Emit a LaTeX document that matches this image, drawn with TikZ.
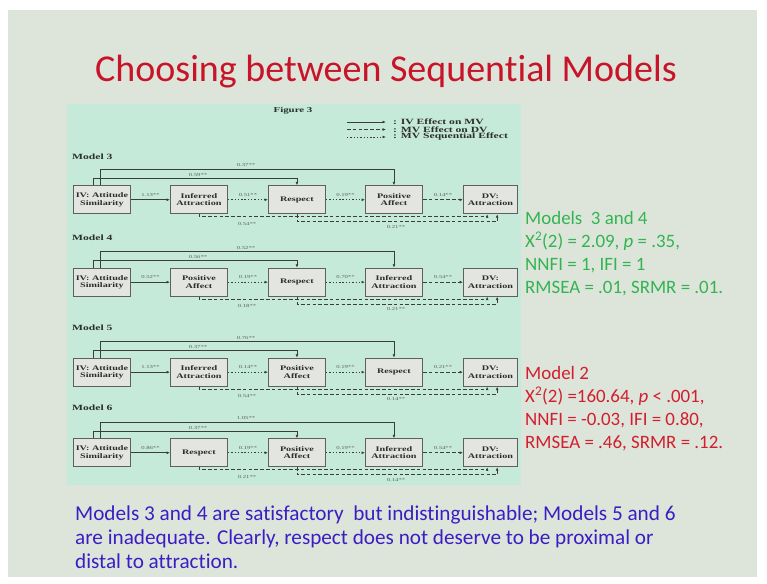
\documentclass[tikz,border=0pt]{standalone}
\usepackage{fontspec}
\setmainfont{Carlito}[RawFeature={-liga;-clig;-dlig}]
\newfontfamily\figfont[FakeStretch=1.45]{Liberation Serif}
\usetikzlibrary{arrows.meta,calc}

\definecolor{slidebg}{RGB}{221,229,219}
\definecolor{panelbg}{RGB}{197,234,217}
\definecolor{boxfill}{RGB}{227,229,225}
\definecolor{boxline}{RGB}{95,95,95}
\definecolor{linecol}{RGB}{60,60,60}
\definecolor{figtext}{RGB}{45,45,45}
\definecolor{lbltext}{RGB}{95,95,95}
\definecolor{fitgreen}{RGB}{50,180,80}
\definecolor{fitred}{RGB}{210,30,45}
\definecolor{notesblue}{RGB}{58,30,195}
\definecolor{titlered}{RGB}{200,20,40}

% One row of the sequential model: boxes and connectors
% #1 id, #2 box top, #3 label y, #4 model number, #5-#7 middle boxes
\newcommand\modelrow[7]{%
  \node[modeltag] (#1lab) at (72,#3) {Model #4};
  \node[box] (#1a) at (73,#2) {IV: Attitude\\Similarity};
  \node[box] (#1b) at (170,#2) {#5};
  \node[box] (#1c) at (268,#2) {#6};
  \node[box] (#1d) at (365,#2) {#7};
  \node[box,minimum width=54pt] (#1e) at (463,#2) {DV:\\Attraction};
  \coordinate (#1t1) at (0,{#2-16});
  \coordinate (#1t2) at (0,{#2-7});
  \coordinate (#1u1) at (0,{#2+31.5});
  \coordinate (#1u2) at (0,{#2+36.5});
  \draw[ivline] ([xshift=-1.5pt]#1a.north) -- ([xshift=-1.5pt]#1a.north |- #1t1) -| (#1d.north);
  \draw[ivline] ([xshift=-8.5pt]#1a.north) -- ([xshift=-8.5pt]#1a.north |- #1t2) -| (#1c.north);
  \draw[ivline] (#1a) -- (#1b);
  \draw[seqline] (#1b) -- (#1c);
  \draw[seqline] (#1c) -- (#1d);
  \draw[mvline] (#1d) -- (#1e);
  \draw[mvline] (#1b.south) -- (#1b.south |- #1u1) -| ([xshift=-3.3pt]#1e.south);
  \draw[mvline] (#1c.south) -- (#1c.south |- #1u2) -| ([xshift=6.7pt]#1e.south);
}
% Path coefficients of one row
\newcommand\modelcoefs[9]{%
  \path (#1t1) ++(246,-4) node[coef] (#1k1) {#2};
  \path (#1t2) ++(198,-3.5) node[coef] (#1k2) {#3};
  \path ($(#1a.east)!0.5!(#1b.west)$) ++(0,-5) node[coef] (#1h1) {#4};
  \path ($(#1b.east)!0.5!(#1c.west)$) ++(0,-5) node[coef] (#1h2) {#5};
  \path ($(#1c.east)!0.5!(#1d.west)$) ++(0,-5) node[coef] (#1h3) {#6};
  \path ($(#1d.east)!0.5!(#1e.west)$) ++(0,-5) node[coef] (#1h4) {#7};
  \path (#1u1) ++(247,7) node[coef] (#1b1) {#8};
  \path (#1u2) ++(396,5) node[coef] (#1b2) {#9};
}

\begin{document}
\begin{tikzpicture}[x=1pt,y=-1pt,
  tip/.style={-{Latex[length=3.4pt,width=2.8pt]}},
  box/.style={draw=boxline, fill=boxfill, line width=0.9pt, anchor=north west,
    minimum width=57pt, minimum height=28pt, inner sep=0pt, align=center,
    text=figtext, font=\figfont\bfseries\fontsize{7}{7.4}\selectfont},
  ivline/.style={draw=linecol, line width=0.8pt, tip},
  mvline/.style={draw=linecol, line width=0.8pt, dash pattern=on 3.6pt off 2.2pt, tip},
  seqline/.style={draw=linecol, line width=0.8pt, dash pattern=on 1.4pt off 1.9pt, tip},
  coef/.style={text=lbltext, inner sep=0pt, font=\figfont\fontsize{4.6}{5}\selectfont},
  modeltag/.style={anchor=west, inner sep=0pt, text=figtext, font=\figfont\bfseries\fontsize{8}{8}\selectfont},
  legendtxt/.style={anchor=west, inner sep=0pt, text=figtext, font=\figfont\bfseries\fontsize{8}{8}\selectfont},
  fitline/.style={anchor=base west, inner sep=0pt, font=\fontsize{18.9}{21}\selectfont},
  noteline/.style={anchor=base west, inner sep=0pt, text=notesblue, font=\fontsize{21.2}{24}\selectfont}]

\useasboundingbox (0,0) rectangle (767,583);
\fill[white] (0,0) rectangle (767,583);
\fill[slidebg] (8,10) rectangle (757,577);

% slide title
\node[anchor=base, inner sep=0pt, text=titlered, font=\fontsize{38}{40}\selectfont] (title) at (386,82) {Choosing between Sequential Models};

% figure panel
\fill[panelbg] (67,104) rectangle (521,485);
\node[inner sep=0pt, text=figtext, font=\figfont\bfseries\fontsize{7.5}{8}\selectfont] (figtitle) at (293,111) {Figure 3};

% legend
\coordinate (lg1s) at (347,122); \coordinate (lg1e) at (386,122);
\coordinate (lg2s) at (347,129.5); \coordinate (lg2e) at (386,129.5);
\coordinate (lg3s) at (347,137); \coordinate (lg3e) at (386,137);
\draw[ivline] (lg1s) -- (lg1e);
\draw[mvline] (lg2s) -- (lg2e);
\draw[seqline] (lg3s) -- (lg3e);
\node[legendtxt] (lg1) at (393,122) {: IV Effect on MV};
\node[legendtxt] (lg2) at (393,129.5) {: MV Effect on DV};
\node[legendtxt] (lg3) at (393,137) {: MV Sequential Effect};

% the four models
\modelrow{ma}{185.3}{157}{3}{Inferred\\Attraction}{Respect}{Positive\\Affect}
\modelcoefs{ma}{0.37**}{0.59**}{1.13**}{0.51**}{0.19**}{0.14**}{0.54**}{0.21**}

\modelrow{mb}{267.7}{238}{4}{Positive\\Affect}{Respect}{Inferred\\Attraction}
\modelcoefs{mb}{0.52**}{0.56**}{0.52**}{0.19**}{0.70**}{0.54**}{0.18**}{0.21**}

\modelrow{mc}{357.7}{328}{5}{Inferred\\Attraction}{Positive\\Affect}{Respect}
\modelcoefs{mc}{0.76**}{0.37**}{1.13**}{0.14**}{0.19**}{0.21**}{0.54**}{0.14**}

\modelrow{md}{438.3}{408}{6}{Respect}{Positive\\Affect}{Inferred\\Attraction}
\modelcoefs{md}{1.05**}{0.37**}{0.86**}{0.19**}{0.19**}{0.54**}{0.21**}{0.14**}

% fit statistics
\node[fitline, text=fitgreen] (g1) at (525,224) {Models\ \ 3 and 4};
\node[fitline, text=fitgreen] (g2) at (525,247) {X\textsuperscript{2}(2) = 2.09, \textit{p} = .35,};
\node[fitline, text=fitgreen] (g3) at (525,270) {NNFI = 1, IFI = 1};
\node[fitline, text=fitgreen] (g4) at (525,293) {RMSEA = .01, SRMR = .01.};

\node[fitline, text=fitred] (r1) at (525,379) {Model 2};
\node[fitline, text=fitred] (r2) at (525,402) {X\textsuperscript{2}(2) =160.64, \textit{p} < .001,};
\node[fitline, text=fitred] (r3) at (525,425) {NNFI = -0.03, IFI = 0.80,};
\node[fitline, text=fitred] (r4) at (525,448) {RMSEA = .46, SRMR = .12.};

% conclusion
\node[noteline] (n1) at (75,520) {Models 3 and 4 are satisfactory\ \ but indistinguishable; Models 5 and 6};
\node[noteline] (n2) at (75,544) {are inadequate. Clearly, respect does not deserve to be proximal or};
\node[noteline] (n3) at (75,568) {distal to attraction.};
\end{tikzpicture}
\end{document}
